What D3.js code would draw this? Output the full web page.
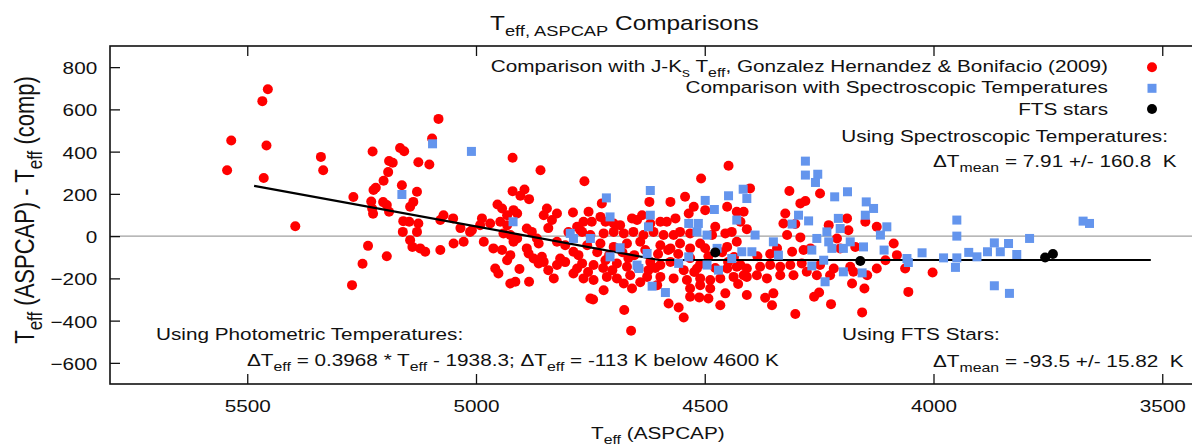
<!DOCTYPE html>
<html>
<head>
<meta charset="utf-8">
<script src="https://cdn.jsdelivr.net/npm/d3@7"></script>
<style>
  html, body { margin: 0; padding: 0; background: #fff; overflow: hidden; }
  svg { display: block; font-family: "Liberation Sans", Arial, Helvetica, sans-serif; }
  text { fill: #111; }
</style>
</head>
<body>
<svg id="chart" width="1192" height="446"></svg>
<script>
// J-Ks photometric comparison (Gonzalez Hernandez & Bonifacio 2009)
const jkTeff = [5455,5467,5535,5458,5544,5464,5339,5334,5395,5226,5166,5157,5190,5182,5192,5202,5219,5224,5268,5229,5227,5225,5203,5195,5190,5162,5159,5146,5160,5144,5139,5122,5236,5195,5248,5271,5126,5129,5137,5144,
  5082,5096,5102,4920,4859,4763,4920,4894,4903,4884,4953,4943,4918,4910,4932,4845,4852,4823,4834,4788,5071,5050,5078,4987,4969,4991,5009,5013,5126,5129,5111,4947,4932,4940,4925,4910,4918,4889,4878,4867,4863,4889,4779,4772,4765,4754,
  5049,5027,5078,4983,4962,4943,4925,4932,4885,4874,4856,4863,4852,4823,4816,4823,4830,4787,4776,4768,4779,4787,4765,4958,4951,4905,4925,4914,4884,4750,
  4448,4508,4621,4575,4543,4451,4430,4415,4401,4725,4747,4728,4717,4699,4685,4659,4648,4637,4619,4597,4583,4564,4535,4524,4499,4477,4484,4455,4441,
  4768,4750,4721,4699,4677,4656,4634,4612,4590,4568,4554,4532,4757,4728,4699,4670,4641,4597,4575,4554,4532,4510,4451,4430,
  4743,4717,4692,4670,4619,4597,4575,4546,4517,4451,4430,4408,4743,4714,4692,4663,4626,4597,4568,4539,4510,4488,4466,4437,4415,
  4721,4677,4659,4604,4532,4510,4455,4408,4488,4744,4676,4579,4557,4546,4532,4512,4492,4466,4661,
  4315,4291,4280,4248,4422,4408,4324,4328,4302,4291,4320,4229,4189,4186,4149,4124,4087,4080,4105,4342,4309,4284,4269,4211,4204,4171,
  4422,4379,4357,4335,4313,4288,4248,4218,4182,4408,4386,4364,4335,4306,4277,4255,4226,4175,4145,4124,
  4368,4350,4353,4302,4261,4250,4224,4178,4151,4156,4055,4062,4002,
  4735,4709,4680,4654,4630,4602,4558,4532,4492,4462,4436,4385,4357,4722,4645,4623,4510,4477,4805,4798,4842,5034,
  4755,4702,4667,4641,4608,4580,4523,4499,4449,4427,4805,4842];
const jkDelta = [695,639,453,429,312,275,375,312,47,401,417,402,356,347,303,262,229,218,185,164,131,106,161,147,115,241,71,68,20,-19,-51,-58,-46,-95,-131,-232,350,210,162,139,
  555,462,339,371,312,260,213,221,191,175,150,131,123,107,99,131,99,107,76,112,99,84,76,84,60,52,28,20,60,20,-74,68,52,13,5,-11,-27,36,20,-11,-35,-58,44,28,68,115,
  -35,-27,-66,-27,-58,-66,-90,-114,-82,-106,-98,-129,-122,-27,-106,-137,-200,-74,-90,-129,-153,-177,-200,-153,-177,-156,-224,-216,-216,-295,
  333,273,162,162,186,139,115,115,226,155,68,91,68,60,52,84,76,99,60,68,68,84,107,139,123,44,5,13,20,
  20,5,13,20,13,20,5,20,5,5,20,13,-43,-35,-51,-35,-27,-43,-58,-35,-58,-35,-51,-27,
  -137,-114,-129,-145,-122,-137,-122,-161,-153,-153,-145,-153,-208,-193,-200,-185,-193,-193,-200,-208,-200,-208,-200,-193,-185,
  -256,-224,-248,-232,-248,-232,-271,-279,-248,-300,-350,-319,-338,-385,-287,-290,-295,-327,-448,
  214,155,166,202,68,33,107,60,57,-6,5,52,84,28,68,44,-35,-90,-114,-58,-74,-66,-58,-11,-58,-51,
  -137,-145,-137,-145,-137,-129,-137,-153,-145,-193,-185,-200,-185,-185,-169,-185,-185,-169,-185,-153,
  -292,-271,-327,-369,-287,-267,-322,-224,-248,-361,-264,-153,-172,
  -76,-90,-76,-90,-66,-85,-85,-104,-95,-76,-99,-95,-85,-151,-151,-161,-133,-151,-43,19,38,38,
  -170,-161,-104,-218,-151,-66,-170,-57,-123,-227,-123,-161];

// Spectroscopic comparison
const specTeff = [5162,5095,5010,4919,4794,4787,4750,4715,4619,4499,4479,4448,4416,4408,4430,4707,4619,4623,4535,4514,4517,4495,
  4685,4707,4626,4648,4644,4557,4535,4495,4473,4470,4441,4419,4615,4586,
  4280,4280,4253,4258,4216,4188,4147,4131,4149,4295,4273,4309,4208,4233,4255,4204,4182,4390,4350,4266,4229,4222,4102,4116,4108,4153,4197,4058,4397,4339,4266,4240,4197,4156,4237,
  3949,3949,4025,4055,3978,3949,3952,3923,3905,3882,3867,3854,3836,3818,3790,3867,3834,3673,3659];
const specDelta = [197,437,401,68,13,-11,-11,181,216,169,126,191,222,178,76,91,99,44,60,60,20,5,
  -55,-98,-82,-137,-153,-129,-98,-137,-58,-161,-106,-74,-237,-267,
  355,289,293,254,186,210,162,131,99,99,72,57,84,20,-11,36,-27,5,-27,-66,-27,-58,44,5,-66,-51,-58,-106,-74,-90,-141,-114,-169,-174,-216,
  76,0,-79,-125,-103,-103,-148,-77,-98,-74,-32,-74,-35,-87,-11,-235,-271,71,60];

// FTS stars
const ftsTeff = [4477,4160,3756,3739];
const ftsDelta = [-77,-118,-101,-85];

// Photometric offset relation: 0.3968*Teff - 1938.3 above 4600 K, -113 K below
const fitTeff = [5485,4600,3525];
const fitDelta = [238,-113,-113];

const xTicks = [5500,5000,4500,4000,3500];
const yTicks = [-600,-400,-200,0,200,400,600,800];

const SX = 1.22; // horizontal glyph stretch
const svg = d3.select("#chart");
const M = {left: 110, top: 46, right: 1208, bottom: 384};

const x = d3.scaleLinear().domain([5800, 3400]).range([M.left, M.right]);
const y = d3.scaleLinear().domain([-700, 900]).range([M.bottom, M.top]);

// rich text helper: parts = [[string, isSub], ...]
function rich(g, px, py, anchor, size, parts, extra) {
  const subSize = Math.round(size * 0.76);
  const off = Math.round(size * 0.3);
  const t = g.append("text")
    .attr("transform", `translate(${px},${py}) scale(${SX},1)` + (extra || ""))
    .attr("text-anchor", anchor)
    .style("font-size", size + "px")
    .attr("xml:space", "preserve");
  let prevSub = false;
  parts.forEach(([s, sub]) => {
    const ts = t.append("tspan").text(s);
    if (sub && !prevSub) ts.attr("dy", off).style("font-size", subSize + "px");
    else if (!sub && prevSub) ts.attr("dy", -off);
    else if (sub) ts.style("font-size", subSize + "px");
    prevSub = sub;
  });
  return t;
}

// zero line
svg.append("line")
  .attr("x1", M.left).attr("x2", M.right)
  .attr("y1", y(0)).attr("y2", y(0))
  .attr("stroke", "#a0a0a0").attr("stroke-width", 1.2);

// axes
const gB = svg.append("g").attr("transform", `translate(0,${M.bottom})`)
  .call(d3.axisBottom(x).tickValues(xTicks).tickSize(-10).tickPadding(16).tickFormat(d3.format("d")));
const gT = svg.append("g").attr("transform", `translate(0,${M.top})`)
  .call(d3.axisTop(x).tickValues(xTicks).tickSize(-10).tickFormat(""));
const gL = svg.append("g").attr("transform", `translate(${M.left},0)`)
  .call(d3.axisLeft(y).tickValues(yTicks).tickSize(-10).tickPadding(10.5).tickFormat(d3.format("d")));
[gB, gT, gL].forEach(g => {
  g.select(".domain").remove();
  g.selectAll(".tick line").attr("stroke", "#111").attr("stroke-width", 1.3);
  g.selectAll(".tick text").style("font-size", "17px").style("font-family", "inherit").attr("fill", "#111");
});
gB.selectAll(".tick text").attr("transform", `scale(${SX},1)`);
gL.selectAll(".tick text").attr("transform", `scale(${SX},1)`).attr("dy", "0.38em");

// frame
svg.append("rect")
  .attr("x", M.left).attr("y", M.top)
  .attr("width", M.right - M.left).attr("height", M.bottom - M.top)
  .attr("fill", "none").attr("stroke", "#111").attr("stroke-width", 1.6);

// red points
svg.append("g").selectAll("circle").data(d3.range(jkTeff.length)).join("circle")
  .attr("cx", i => x(jkTeff[i])).attr("cy", i => y(jkDelta[i])).attr("r", 5)
  .attr("fill", "#ff0000");

// fit line
svg.append("path")
  .attr("d", d3.line().x(i => x(fitTeff[i])).y(i => y(fitDelta[i]))(d3.range(fitTeff.length)))
  .attr("fill", "none").attr("stroke", "#000").attr("stroke-width", 2.2);

// blue squares
const sq = 9;
svg.append("g").selectAll("rect").data(d3.range(specTeff.length)).join("rect")
  .attr("x", i => x(specTeff[i]) - sq / 2).attr("y", i => y(specDelta[i]) - sq / 2)
  .attr("width", sq).attr("height", sq)
  .attr("fill", "#6495ed");

// black points
svg.append("g").selectAll("circle").data(d3.range(ftsTeff.length)).join("circle")
  .attr("cx", i => x(ftsTeff[i])).attr("cy", i => y(ftsDelta[i])).attr("r", 5)
  .attr("fill", "#000");

// legend
const lg = svg.append("g");
rich(lg, 1108, 72, "end", 17, [["Comparison with J-K"], ["s", true], [" T"], ["eff", true], [", Gonzalez Hernandez & Bonifacio (2009)"]]);
rich(lg, 1108, 93, "end", 17, [["Comparison with Spectroscopic Temperatures"]]);
rich(lg, 1108, 114.5, "end", 17, [["FTS stars"]]);
lg.append("circle").attr("cx", 1152).attr("cy", 67.3).attr("r", 5).attr("fill", "#ff0000");
lg.append("rect").attr("x", 1152 - sq / 2).attr("y", 88.3 - sq / 2).attr("width", sq).attr("height", sq).attr("fill", "#6495ed");
lg.append("circle").attr("cx", 1152).attr("cy", 109).attr("r", 5).attr("fill", "#000");

// annotations
const an = svg.append("g");
rich(an, 1168, 142, "end", 17, [["Using Spectroscopic Temperatures:"]]);
rich(an, 933, 167, "start", 17, [["\u0394T"], ["mean", true], [" = 7.91 +/- 160.8  K"]]);
rich(an, 156, 340, "start", 17, [["Using Photometric Temperatures:"]]);
rich(an, 247, 366, "start", 17, [["\u0394T"], ["eff", true], [" = 0.3968 * T"], ["eff", true], [" - 1938.3; \u0394T"], ["eff", true], [" = -113 K below 4600 K"]]);
rich(an, 842, 340, "start", 17, [["Using FTS Stars:"]]);
rich(an, 933, 367, "start", 17, [["\u0394T"], ["mean", true], [" = -93.5 +/- 15.82  K"]]);

// title and axis labels
rich(svg, 490, 30, "start", 20, [["T"], ["eff, ASPCAP", true], [" Comparisons"]]);
rich(svg, 591, 439, "start", 17, [["T"], ["eff", true], [" (ASPCAP)"]]);
rich(svg, 33.5, 210, "middle", 22, [["T"], ["eff", true], [" (ASPCAP) - T"], ["eff", true], [" (comp)"]], " rotate(-90)");
</script>
</body>
</html>
